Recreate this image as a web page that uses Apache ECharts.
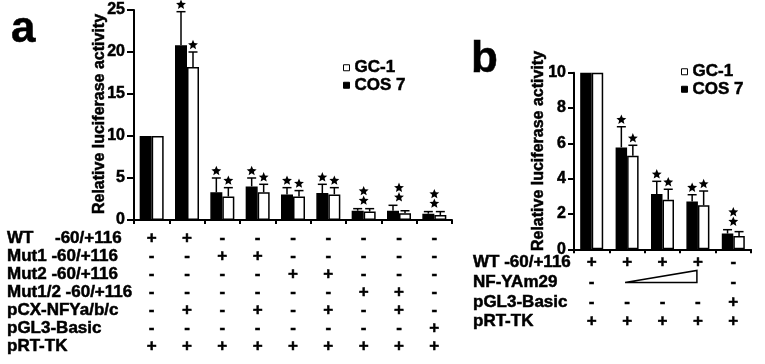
<!DOCTYPE html>
<html>
<head>
<meta charset="utf-8">
<script src="https://cdn.jsdelivr.net/npm/echarts@6/dist/echarts.min.js"></script>
<style>
html, body { margin: 0; padding: 0; background: #fff; }
#chart { width: 765px; height: 364px; }
</style>
</head>
<body>
<div id="chart"></div>
<script>
var FONT = "'Liberation Sans', Arial, sans-serif";

// ---- panel a ----
var aCats = ["1", "2", "3", "4", "5", "6", "7", "8", "9"];
var aCos7 = [10, 20.8, 3.3, 4.0, 3.05, 3.2, 1.1, 1.1, 0.75];
var aCos7Err = [0, 4.0, 1.7, 1.0, 0.8, 1.05, 0.25, 0.65, 0.25];
var aGc1 = [10, 18.2, 2.8, 3.3, 2.8, 3.05, 1.0, 0.8, 0.6];
var aGc1Err = [0, 1.8, 1.05, 0.95, 0.7, 0.8, 0.35, 0.3, 0.4];
// 1 = one star over each bar, 2 = two stars over the pair
var aStars = [0, 1, 1, 1, 1, 1, 2, 2, 2];
var aRows = ["WT", "Mut1 -60/+116", "Mut2 -60/+116", "Mut1/2 -60/+116", "pCX-NFYa/b/c", "pGL3-Basic", "pRT-TK"];
var aSigns = [
  ["+", "+", "-", "-", "-", "-", "-", "-", "-"],
  ["-", "-", "+", "+", "-", "-", "-", "-", "-"],
  ["-", "-", "-", "-", "+", "+", "-", "-", "-"],
  ["-", "-", "-", "-", "-", "-", "+", "+", "-"],
  ["-", "+", "-", "+", "-", "+", "-", "+", "-"],
  ["-", "-", "-", "-", "-", "-", "-", "-", "+"],
  ["+", "+", "+", "+", "+", "+", "+", "+", "+"]
];

// ---- panel b ----
var bCats = ["1", "2", "3", "4", "5"];
var bCos7 = [10, 5.77, 3.13, 2.7, 0.89];
var bCos7Err = [0, 1.17, 0.72, 0.39, 0.22];
var bGc1 = [10, 5.3, 2.81, 2.49, 0.75];
var bGc1Err = [0, 0.59, 0.59, 0.81, 0.25];
var bStars = [0, 1, 1, 1, 2];
var bRows = ["WT -60/+116", "NF-YAm29", "pGL3-Basic", "pRT-TK"];
var bSigns = [
  ["+", "+", "+", "+", "-"],
  ["-", " ", " ", " ", "-"],
  ["-", "-", "-", "-", "+"],
  ["+", "+", "+", "+", "+"]
];
// NF-YAm29 wedge (increasing amount) spans groups 2..4
var bWedge = [1, 3];

var chart = echarts.init(document.getElementById("chart"));

function starPoints(cx, cy, r) {
  var pts = [];
  for (var k = 0; k < 10; k++) {
    var rr = k % 2 ? r * 0.45 : r;
    var ang = -Math.PI / 2 + (k * Math.PI) / 5;
    pts.push([cx + rr * Math.cos(ang), cy + rr * Math.sin(ang)]);
  }
  return pts;
}

function errSeries(ax, means, errs, side, bw) {
  return {
    type: "custom",
    xAxisIndex: ax,
    yAxisIndex: ax,
    silent: true,
    z: 5,
    data: means.map(function (m, i) { return [i, m, m + errs[i]]; }),
    renderItem: function (params, api) {
      var m = api.value(1), t = api.value(2);
      if (t <= m) return;
      var p0 = api.coord([api.value(0), m]);
      var p1 = api.coord([api.value(0), t]);
      var x = p0[0] + side * bw / 2;
      return {
        type: "group",
        children: [
          { type: "line", shape: { x1: x, y1: p0[1], x2: x, y2: p1[1] }, style: { stroke: "#000", lineWidth: 1.5 } },
          { type: "line", shape: { x1: x - 4.5, y1: p1[1], x2: x + 4.5, y2: p1[1] }, style: { stroke: "#000", lineWidth: 1.5 } }
        ]
      };
    }
  };
}

function starSeries(ax, blk, blkErr, wht, whtErr, stars, bw) {
  return {
    type: "custom",
    xAxisIndex: ax,
    yAxisIndex: ax,
    silent: true,
    z: 6,
    data: stars.map(function (s, i) {
      return [i, blk[i] + blkErr[i], wht[i] + whtErr[i], s];
    }),
    renderItem: function (params, api) {
      var i = api.value(0), n = api.value(3);
      if (!n) return;
      var pb = api.coord([i, api.value(1)]);
      var pw = api.coord([i, api.value(2)]);
      var kids = [];
      var r = 5.2;
      if (n === 1) {
        kids.push({ type: "polygon", shape: { points: starPoints(pb[0] - bw / 2, pb[1] - 7, r) }, style: { fill: "#000" } });
        kids.push({ type: "polygon", shape: { points: starPoints(pw[0] + bw / 2, pw[1] - 7, r) }, style: { fill: "#000" } });
      } else {
        var y = Math.min(pb[1], pw[1]) - 8;
        kids.push({ type: "polygon", shape: { points: starPoints(pb[0], y, r) }, style: { fill: "#000" } });
        kids.push({ type: "polygon", shape: { points: starPoints(pb[0], y - 9.5, r) }, style: { fill: "#000" } });
      }
      return { type: "group", children: kids };
    }
  };
}

function txt(x, y, s, size, extra) {
  var o = {
    type: "text",
    x: x,
    y: y,
    silent: true,
    style: {
      text: s,
      font: "bold " + size + "px " + FONT,
      fill: "#000",
      stroke: "#000",
      lineWidth: 0.5,
      align: "left",
      verticalAlign: "middle",
      textAlign: "left",
      textVerticalAlign: "middle"
    }
  };
  if (extra) {
    for (var k in extra) o[k] = extra[k];
  }
  return o;
}

var graphics = [];
graphics.push(txt(11, 29.4, "a", 44));
graphics.push(txt(471, 59.4, "b", 44));
var yName = txt(100, 114, "Relative luciferase activity", 16, { rotation: Math.PI / 2 });
yName.style.align = yName.style.textAlign = "center";
graphics.push(yName);
var yNameB = txt(539, 151, "Relative luciferase activity", 16, { rotation: Math.PI / 2 });
yNameB.style.align = yNameB.style.textAlign = "center";
graphics.push(yNameB);

aRows.forEach(function (r, k) {
  var y = 238 + k * 18;
  if (r === "WT") {
    graphics.push(txt(7, y, "WT", 17));
    graphics.push(txt(55, y, "-60/+116", 17));
  } else {
    graphics.push(txt(7, y, r, 17));
  }
});
bRows.forEach(function (r, k) {
  graphics.push(txt(473, 262.7 + k * 19.7, r, 17));
});

var axisLine = { show: true, lineStyle: { color: "#000", width: 2 } };
var boldText = { color: "#000", fontWeight: "bold", fontFamily: FONT, textBorderColor: "#000", textBorderWidth: 0.5 };

function legendAt(left, top) {
  return {
    orient: "vertical",
    left: left,
    top: top,
    itemWidth: 6,
    itemHeight: 6,
    itemGap: 0,
    icon: "rect",
    data: ["GC-1", "COS 7"],
    itemStyle: { borderWidth: 1, borderColor: "#000" },
    textStyle: Object.assign({ fontSize: 17, lineHeight: 17 }, boldText)
  };
}

var option = {
  animation: false,
  backgroundColor: "#fff",
  textStyle: { fontFamily: FONT },
  graphic: graphics,
  legend: [legendAt(338, 54), legendAt(676, 58)],
  grid: [
    { left: 134, right: 313, top: 10, bottom: 144 },
    { left: 574, right: 14, top: 72.7, bottom: 114.7 }
  ],
  xAxis: [
    {
      type: "category",
      gridIndex: 0,
      data: aCats,
      axisLine: axisLine,
      axisTick: { show: true, length: 4, lineStyle: { color: "#000", width: 2 } },
      axisLabel: Object.assign({
        interval: 0,
        margin: 9,
        fontSize: 17,
        lineHeight: 18,
        formatter: function (v, idx) {
          return aSigns.map(function (r) { return r[idx]; }).join("\n");
        }
      }, boldText)
    },
    {
      type: "category",
      gridIndex: 1,
      data: bCats,
      axisLine: axisLine,
      axisTick: { show: true, length: 4, lineStyle: { color: "#000", width: 2 } },
      axisLabel: Object.assign({
        interval: 0,
        margin: 3.5,
        fontSize: 17,
        lineHeight: 19.7,
        formatter: function (v, idx) {
          return bSigns.map(function (r) { return r[idx]; }).join("\n");
        }
      }, boldText)
    }
  ],
  yAxis: [
    {
      type: "value",
      gridIndex: 0,
      min: 0,
      max: 25,
      interval: 5,
      axisLine: axisLine,
      axisTick: { show: true, length: 7, lineStyle: { color: "#000", width: 2 } },
      splitLine: { show: false },
      axisLabel: Object.assign({ margin: 9, fontSize: 16 }, boldText)
    },
    {
      type: "value",
      gridIndex: 1,
      min: 0,
      max: 10,
      interval: 2,
      axisLine: axisLine,
      axisTick: { show: true, length: 6, lineStyle: { color: "#000", width: 2 } },
      splitLine: { show: false },
      axisLabel: Object.assign({ margin: 8, fontSize: 16 }, boldText)
    }
  ],
  series: [
    {
      name: "COS 7", type: "bar", xAxisIndex: 0, yAxisIndex: 0, data: aCos7,
      barWidth: 12, barGap: "0%", silent: true,
      itemStyle: { color: "#000", borderColor: "#000", borderWidth: 1.5 }
    },
    {
      name: "GC-1", type: "bar", xAxisIndex: 0, yAxisIndex: 0, data: aGc1,
      barWidth: 12, barGap: "0%", silent: true,
      itemStyle: { color: "#fff", borderColor: "#000", borderWidth: 1.5 }
    },
    errSeries(0, aCos7, aCos7Err, -1, 12),
    errSeries(0, aGc1, aGc1Err, 1, 12),
    starSeries(0, aCos7, aCos7Err, aGc1, aGc1Err, aStars, 12),
    {
      name: "COS 7", type: "bar", xAxisIndex: 1, yAxisIndex: 1, data: bCos7,
      barWidth: 11.5, barGap: "0%", silent: true,
      itemStyle: { color: "#000", borderColor: "#000", borderWidth: 1.5 }
    },
    {
      name: "GC-1", type: "bar", xAxisIndex: 1, yAxisIndex: 1, data: bGc1,
      barWidth: 11.5, barGap: "0%", silent: true,
      itemStyle: { color: "#fff", borderColor: "#000", borderWidth: 1.5 }
    },
    errSeries(1, bCos7, bCos7Err, -1, 11.5),
    errSeries(1, bGc1, bGc1Err, 1, 11.5),
    starSeries(1, bCos7, bCos7Err, bGc1, bGc1Err, bStars, 11.5),
    {
      type: "custom",
      xAxisIndex: 1,
      yAxisIndex: 1,
      silent: true,
      clip: false,
      data: [bWedge],
      renderItem: function (params, api) {
        var x1 = api.coord([api.value(0), 0])[0] - 2;
        var x2 = api.coord([api.value(1), 0])[0] - 1;
        var base = api.coord([0, 0])[1] + 33.2;
        return {
          type: "polygon",
          shape: { points: [[x1, base], [x2, base], [x2, base - 12]] },
          style: { fill: "#fff", stroke: "#000", lineWidth: 1.5 }
        };
      }
    }
  ]
};
chart.setOption(option);
</script>
</body>
</html>
